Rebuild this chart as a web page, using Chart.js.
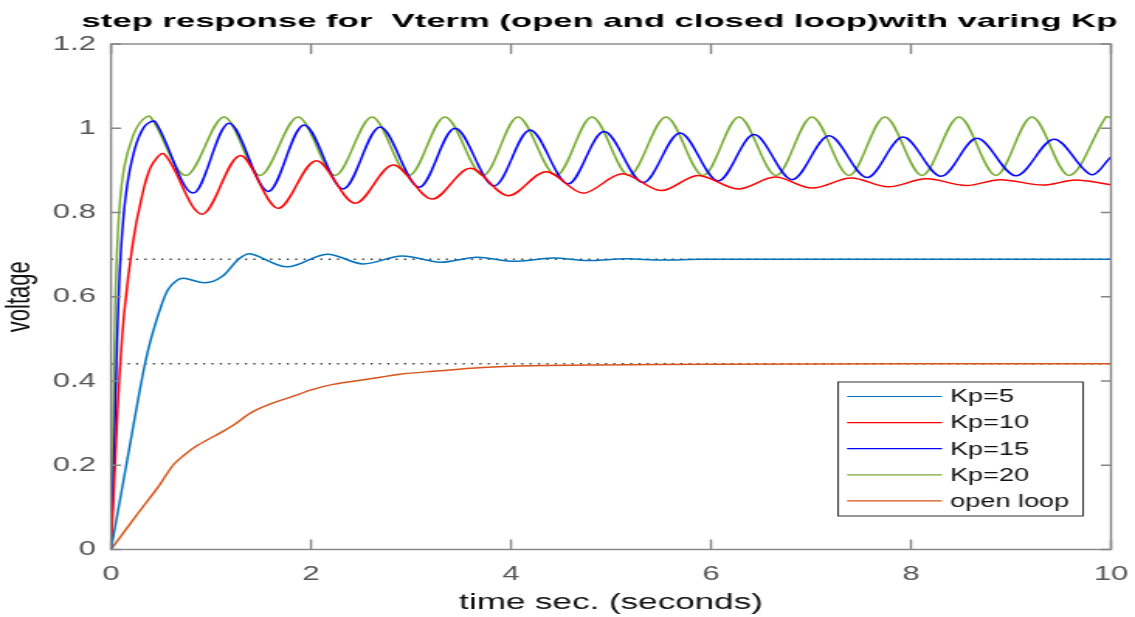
<!DOCTYPE html>
<html>
<head>
<meta charset="utf-8">
<title>step response Vterm</title>
<script src="https://cdn.jsdelivr.net/npm/chart.js@4/dist/chart.umd.min.js"></script>
<style>
  html, body { margin: 0; padding: 0; background: #fff; overflow: hidden; }
</style>
</head>
<body>
<!-- the picture is stretched sideways, so the canvas is drawn narrow and shown wide -->
<canvas id="chart" width="732" height="617" style="width:1135px;height:617px;display:block"></canvas>
<script>
/* values: [time (s), voltage] */
const kp5 = [[0,0],[0.16,0.21],[0.27,0.355],[0.34,0.441],[0.40,0.50],[0.49,0.57],[0.57,0.617],[0.66,0.639],
  [0.73,0.644],[0.94,0.633],[1.11,0.648],[1.27,0.688],[1.39,0.702],[1.76,0.671],[2.16,0.701],[2.52,0.678],
  [2.91,0.697],[3.29,0.682],[3.66,0.694],[4.02,0.684],[4.42,0.692],[4.76,0.686],[5.15,0.690],[5.5,0.687],
  [5.9,0.689],[10,0.689]]

const kp10 = [[0,0],[0.05,0.25],[0.084,0.41],[0.134,0.567],[0.217,0.726],[0.30,0.829],[0.40,0.909],[0.53,0.939],
  [0.91,0.796],[1.29,0.935],[1.67,0.810],[2.05,0.923],[2.44,0.822],[2.82,0.913],[3.21,0.832],[3.59,0.905],
  [3.97,0.840],[4.35,0.897],[4.72,0.846],[5.11,0.892],[5.50,0.852],[5.87,0.888],[6.27,0.856],[6.64,0.884],
  [7.01,0.858],[7.40,0.882],[7.77,0.861],[8.15,0.880],[8.55,0.864],[8.89,0.878],[9.32,0.865],[9.64,0.877],[10,0.866]]

const kp15 = [[0,0],[0.034,0.25],[0.06,0.49],[0.094,0.69],[0.15,0.845],[0.234,0.948],[0.334,1.004],[0.44,1.016],
  [0.82,0.846],[1.18,1.012],[1.57,0.850],[1.93,1.008],[2.32,0.856],[2.69,1.003],[3.08,0.860],[3.44,1.000],
  [3.83,0.863],[4.19,0.996],[4.57,0.868],[4.93,0.992],[5.32,0.871],[5.69,0.989],[6.07,0.875],[6.43,0.985],
  [6.81,0.878],[7.18,0.982],[7.56,0.883],[7.92,0.979],[8.30,0.886],[8.66,0.976],[9.05,0.887],[9.43,0.974],
  [9.80,0.890],[10,0.932]]

const kp20 = [[0,0],[0.017,0.25],[0.034,0.49],[0.05,0.65],[0.084,0.81],[0.134,0.91],[0.217,0.98],[0.30,1.016],
  [0.39,1.028],[0.75,0.888],[1.13,1.027],[1.49,0.888],[1.87,1.027],[2.24,0.888],[2.61,1.027],[2.98,0.888],
  [3.34,1.027],[3.72,0.888],[4.07,1.027],[4.45,0.888],[4.81,1.027],[5.18,0.888],[5.55,1.027],[5.92,0.888],
  [6.28,1.027],[6.65,0.888],[7.01,1.027],[7.38,0.888],[7.74,1.027],[8.11,0.888],[8.48,1.027],[8.85,0.888],
  [9.21,1.027],[9.58,0.888],[9.95,1.027],[10,1.025]]

const openLoop = [[0,0],[0.27,0.086],[0.47,0.148],[0.62,0.200],[0.72,0.222],[0.85,0.245],[1.04,0.270],[1.21,0.293],
  [1.41,0.326],[1.61,0.347],[1.81,0.363],[2.02,0.380],[2.22,0.392],[2.56,0.404],[2.89,0.416],[3.22,0.423],
  [3.72,0.432],[4.22,0.436],[4.89,0.438],[6.0,0.440],[10,0.441]]

const steadyLevels = [0.689, 0.441]   // dotted lines
const seriesNames = ["Kp=5", "Kp=10", "Kp=15", "Kp=20", "open loop"]
const seriesColors = ["#0072BD", "#FF0000", "#0000FF", "#77AC30", "#D95319"]
const xRange = [0, 10]
const yRange = [0, 1.2]

const FONT = "'Liberation Sans', Arial, Helvetica, sans-serif"
Chart.defaults.font.family = FONT

const toXY = arr => arr.map(p => ({ x: p[0], y: p[1] }))

const datasets = [kp5, kp10, kp15, kp20, openLoop].map((s, i) => ({
    label: seriesNames[i],
    data: toXY(s),
    borderColor: seriesColors[i],
    borderWidth: 1.5,
    pointRadius: 0,
    tension: 0.33,
    fill: false,
}))

steadyLevels.forEach(v => {
    datasets.push({
        label: "",
        data: [{ x: xRange[0], y: v }, { x: xRange[1], y: v }],
        borderColor: "#333",
        borderWidth: 1.4,
        borderDash: [1.3, 4.1],
        pointRadius: 0,
        tension: 0,
    })
})

/* title, axes box with inward ticks, legend box */
const matlabLook = {
    id: "matlabLook",
    afterDraw(chart) {
        const { ctx, chartArea: a, scales: { x, y } } = chart
        ctx.save()

        // axes box
        ctx.strokeStyle = "#858585"
        ctx.lineWidth = 1.4
        ctx.strokeRect(a.left, a.top, a.right - a.left, a.bottom - a.top)
        ctx.beginPath()
        x.ticks.forEach(t => {
            const px = x.getPixelForValue(t.value)
            ctx.moveTo(px, a.bottom); ctx.lineTo(px, a.bottom - 10)
            ctx.moveTo(px, a.top); ctx.lineTo(px, a.top + 10)
        })
        y.ticks.forEach(t => {
            const py = y.getPixelForValue(t.value)
            ctx.moveTo(a.left, py); ctx.lineTo(a.left + 6.5, py)
            ctx.moveTo(a.right, py); ctx.lineTo(a.right - 6.5, py)
        })
        ctx.stroke()

        // title (wider font in the picture, so squeeze to its width)
        const title = "step response for  Vterm (open and closed loop)with varing Kp"
        ctx.font = "bold 19px " + FONT
        ctx.fillStyle = "#000"
        ctx.textAlign = "center"
        ctx.textBaseline = "alphabetic"
        const w = ctx.measureText(title).width
        ctx.translate(386.6, 27)
        ctx.scale(668 / w, 1)
        ctx.fillText(title, 0, 0)
        ctx.setTransform(1, 0, 0, 1, 0, 0)

        // legend
        const box = { left: 540.5, top: 382, right: 698.5, bottom: 516 }
        ctx.fillStyle = "#fff"
        ctx.fillRect(box.left, box.top, box.right - box.left, box.bottom - box.top)
        ctx.strokeStyle = "#333"
        ctx.lineWidth = 1
        ctx.strokeRect(box.left, box.top, box.right - box.left, box.bottom - box.top)
        ctx.font = "17.5px " + FONT
        ctx.textAlign = "left"
        ctx.textBaseline = "middle"
        const rows = chart.data.datasets.filter(d => d.label)
        rows.forEach((d, i) => {
            const ry = 396.5 + i * 26.1
            ctx.strokeStyle = d.borderColor
            ctx.lineWidth = 1.2
            ctx.beginPath()
            ctx.moveTo(546.3, ry); ctx.lineTo(607.5, ry)
            ctx.stroke()
            ctx.fillStyle = "#111"
            ctx.fillText(d.label, 612.7, ry + 1)
        })
        ctx.restore()
    }
}

const ctxChart = document.querySelector("#chart").getContext("2d")

const chart = new Chart(ctxChart, {
    type: "line",
    data: { datasets: datasets },
    options: {
        responsive: false,
        animation: false,
        layout: { padding: { left: 0, right: 15.5, top: 44, bottom: 0 } },
        plugins: {
            legend: { display: false },
            title: { display: false },
            tooltip: { enabled: false },
        },
        scales: {
            x: {
                type: "linear",
                min: xRange[0],
                max: xRange[1],
                ticks: { stepSize: 2, color: "#555", font: { size: 20 }, padding: 13, maxRotation: 0 },
                grid: { display: false, drawTicks: false },
                border: { display: false },
                title: { display: true, text: "time sec. (seconds)", color: "#111", font: { size: 22.6 }, padding: { top: 0, bottom: 1 } },
                afterFit(scale) {
                    scale.height = 67.5
                    scale.paddingLeft = 0
                    scale.paddingRight = 0
                },
            },
            y: {
                type: "linear",
                min: yRange[0],
                max: yRange[1],
                ticks: {
                    stepSize: 0.2, color: "#555", font: { size: 20 }, padding: 9.7,
                    callback: v => String(Number(v.toFixed(1))),
                },
                grid: { display: false, drawTicks: false },
                border: { display: false },
                title: { display: true, text: "voltage", color: "#111", font: { size: 22 }, padding: { top: 0, bottom: 0 } },
                afterFit(scale) { scale.width = 71.6 },
            },
        },
    },
    plugins: [matlabLook],
})
</script>
</body>
</html>
